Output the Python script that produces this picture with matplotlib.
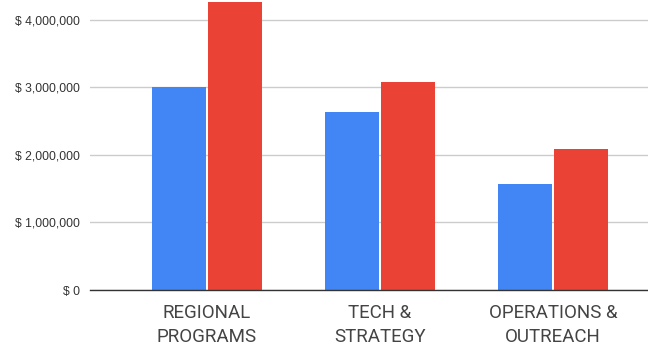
import matplotlib
matplotlib.use("Agg")
import matplotlib.pyplot as plt
import numpy as np

categories = ["REGIONAL\nPROGRAMS", "TECH &\nSTRATEGY", "OPERATIONS &\nOUTREACH"]
series_a = [3010000, 2630000, 1570000]
series_b = [4270000, 3080000, 2090000]
yticks = [0, 1000000, 2000000, 3000000, 4000000]

fig = plt.figure(figsize=(6.48, 3.51), dpi=100)
ax = fig.add_axes([90 / 648, 61 / 351, 558 / 648, 290 / 351])

x = np.arange(len(categories))
w = 0.31
ax.bar(x - 0.162, series_a, width=w, color="#4285F4", zorder=2)
ax.bar(x + 0.162, series_b, width=w, color="#EA4335", zorder=2)

ax.set_xlim(-0.676, 2.55)
ax.set_ylim(0, 4296000)
ax.set_yticks(yticks)
ax.set_yticklabels([f"$ {v:,}" for v in yticks], fontsize=8.7,
                   family="Liberation Sans", color="#333333")
ax.grid(axis="y", color="#cccccc", linewidth=1, zorder=0)
ax.tick_params(axis="y", length=0, pad=7)
ax.tick_params(axis="x", length=0, pad=10)
ax.set_xticks(x)
ax.set_xticklabels(categories, fontsize=13.5, family="Roboto", color="#444444",
                   linespacing=1.45)

for s in ["top", "right", "left"]:
    ax.spines[s].set_visible(False)
ax.spines["bottom"].set_color("#333333")
ax.spines["bottom"].set_linewidth(1)
ax.spines["bottom"].set_zorder(3)

fig.savefig("out.png", dpi=100)
